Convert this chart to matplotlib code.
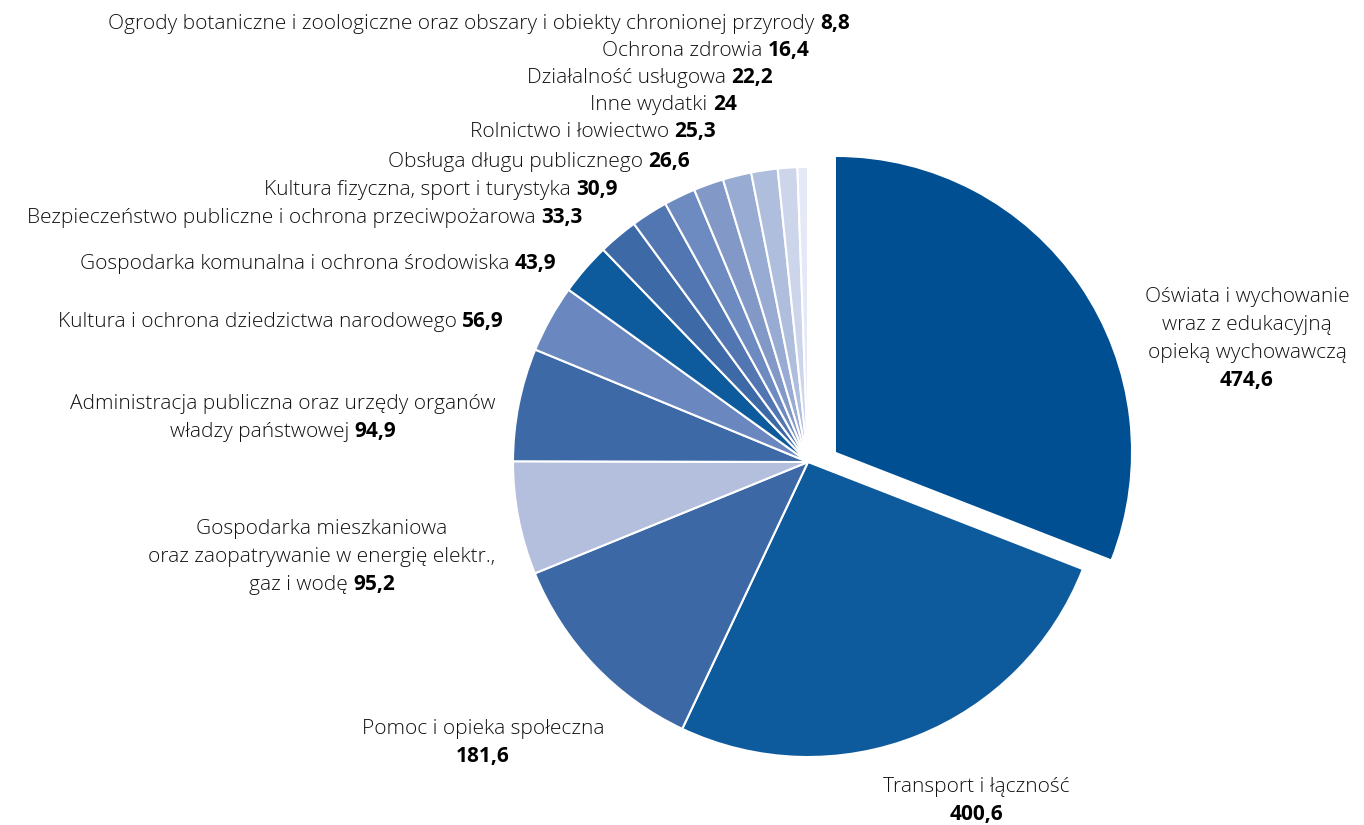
import matplotlib
matplotlib.use('Agg')
import matplotlib.pyplot as plt

W, H = 1364, 825

names = [
    'Oświata i wychowanie\nwraz z edukacyjną\nopieką wychowawczą',
    'Transport i łączność',
    'Pomoc i opieka społeczna',
    'Gospodarka mieszkaniowa\noraz zaopatrywanie w energię elektr.,\ngaz i wodę',
    'Administracja publiczna oraz urzędy organów\nwładzy państwowej',
    'Kultura i ochrona dziedzictwa narodowego',
    'Gospodarka komunalna i ochrona środowiska',
    'Bezpieczeństwo publiczne i ochrona przeciwpożarowa',
    'Kultura fizyczna, sport i turystyka',
    'Obsługa długu publicznego',
    'Rolnictwo i łowiectwo',
    'Inne wydatki',
    'Działalność usługowa',
    'Ochrona zdrowia',
    'Ogrody botaniczne i zoologiczne oraz obszary i obiekty chronionej przyrody',
]
values = [474.6, 400.6, 181.6, 95.2, 94.9, 56.9, 43.9, 33.3, 30.9, 26.6, 25.3, 24, 22.2, 16.4, 8.8]
value_txt = ['474,6', '400,6', '181,6', '95,2', '94,9', '56,9', '43,9', '33,3', '30,9',
             '26,6', '25,3', '24', '22,2', '16,4', '8,8']
colors = ['#004f93', '#0d5a9c', '#3c69a6', '#b3bfdd', '#3d69a6', '#6a88bf', '#0d5a9c',
          '#3d69a6', '#5276b2', '#6d8bc1', '#8299c8', '#98abd3', '#b0bedd', '#ccd5ea', '#e4e9f5']

# label layout: (x, baseline y of first line in px from top, mode, value on own line)
layout = [
    (1247, 302, 'center', True),
    (976, 792, 'center', True),
    (483, 734, 'center', True),
    (322, 534, 'center', False),
    (283, 409, 'center', False),
    (504, 327, 'right', False),
    (556, 269, 'right', False),
    (582, 223, 'right', False),
    (618, 195, 'right', False),
    (690, 167, 'right', False),
    (716, 137, 'right', False),
    (737, 110, 'right', False),
    (773, 83, 'right', False),
    (810, 56, 'right', False),
    (850, 29, 'right', False),
]

plt.rcParams['font.family'] = ['Open Sans', 'DejaVu Sans']
FS = 15
LINE = 28
PLAIN = 'light'

fig = plt.figure(figsize=(W / 100, H / 100), dpi=100)
ax = fig.add_axes([0, 0, 1, 1])

cx, cy, r = 808, H - 462, 295
wedges, _ = ax.pie(values, colors=colors, startangle=90, counterclock=False,
                   center=(cx, cy), radius=r, frame=True,
                   wedgeprops=dict(edgecolor='white', linewidth=1.5))
# pull the first slice out
wedges[0].set_center((cx + 28, cy + 10))
wedges[0].set_linewidth(0)
ax.set_xlim(0, W)
ax.set_ylim(0, H)
ax.set_aspect('equal')
ax.axis('off')

renderer = fig.canvas.get_renderer()


def width_of(s, weight):
    t = ax.text(0, 0, s, fontsize=FS, fontweight=weight)
    w = t.get_window_extent(renderer).width
    t.remove()
    return w


space = width_of('a a', PLAIN) - width_of('aa', PLAIN)

for name, val, (x, y, mode, own_line) in zip(names, value_txt, layout):
    lines = name.split('\n')
    for i, ln in enumerate(lines):
        yy = H - (y + i * LINE)
        last = i == len(lines) - 1
        if last and not own_line:
            wp = width_of(ln, PLAIN)
            wb = width_of(val, 'bold')
            total = wp + space + wb
            x0 = x - total if mode == 'right' else x - total / 2
            ax.text(x0, yy, ln, fontsize=FS, fontweight=PLAIN, ha='left',
                    va='baseline', color='#111111')
            ax.text(x0 + wp + space, yy, val, fontsize=FS, fontweight='bold',
                    ha='left', va='baseline', color='black')
        else:
            ax.text(x, yy, ln, fontsize=FS, fontweight=PLAIN, ha=mode,
                    va='baseline', color='#111111')
    if own_line:
        yy = H - (y + len(lines) * LINE)
        ax.text(x, yy, val, fontsize=FS, fontweight='bold', ha='center',
                va='baseline', color='black')

fig.savefig('out.png', dpi=100, facecolor='white')
